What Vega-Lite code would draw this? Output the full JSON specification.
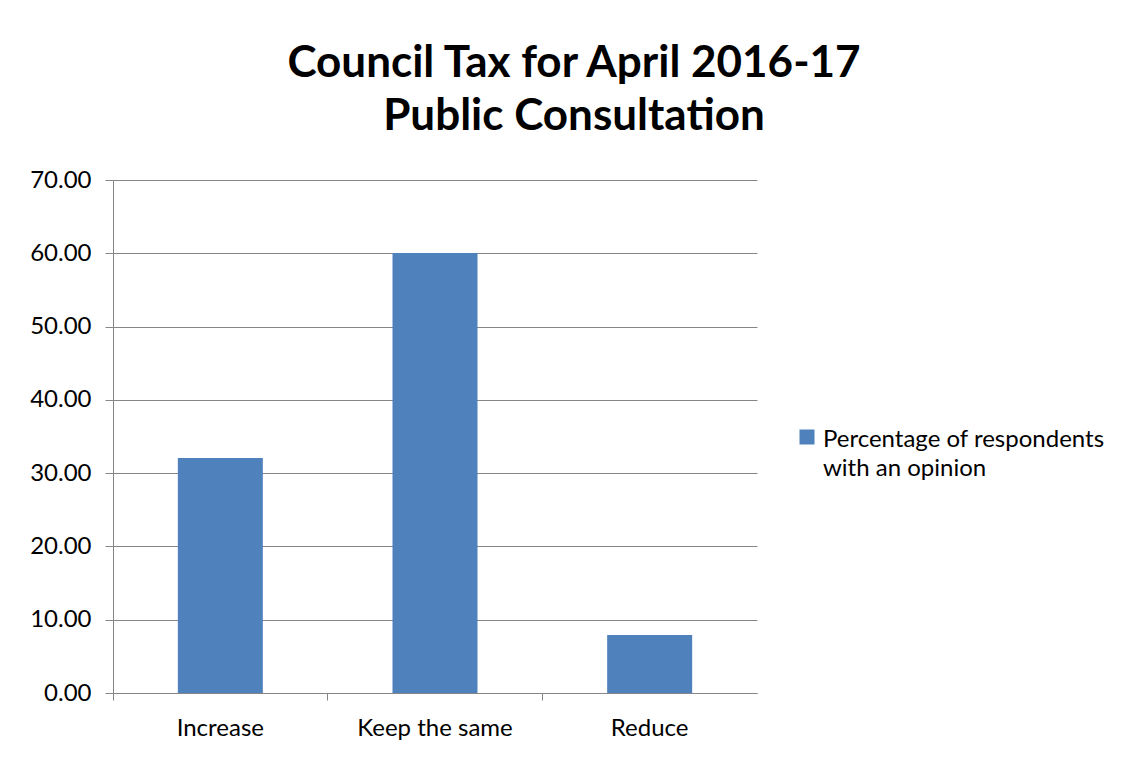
{
  "$schema": "https://vega.github.io/schema/vega-lite/v6.json",
  "autosize": "none",
  "width": 644,
  "height": 513,
  "padding": {"left": 113, "top": 180, "right": 366, "bottom": 65},
  "background": "white",
  "title": {
    "text": ["Council Tax for April 2016-17", "Public Consultation"],
    "font": "Lato",
    "fontSize": 44,
    "fontWeight": "bold",
    "color": "#000000",
    "anchor": "middle",
    "dx": 139,
    "offset": 29,
    "lineHeight": 53
  },
  "data": {
    "values": [
      {"category": "Increase", "value": 32.05, "series": "Percentage of respondents with an opinion"},
      {"category": "Keep the same", "value": 60.05, "series": "Percentage of respondents with an opinion"},
      {"category": "Reduce", "value": 7.9, "series": "Percentage of respondents with an opinion"}
    ]
  },
  "mark": {"type": "bar", "width": {"band": 0.396}},
  "encoding": {
    "x": {
      "field": "category",
      "type": "nominal",
      "sort": null,
      "scale": {"paddingInner": 0, "paddingOuter": 0},
      "axis": {
        "title": null,
        "labelAngle": 0,
        "labelFont": "Lato",
        "labelFontSize": 24,
        "labelColor": "#000000",
        "labelPadding": 16,
        "bandPosition": 0,
        "tickColor": "#868686",
        "tickSize": 7,
        "domainColor": "#868686",
        "labelBound": false,
        "labelFlush": false
      }
    },
    "y": {
      "field": "value",
      "type": "quantitative",
      "scale": {"domain": [0, 70]},
      "axis": {
        "title": null,
        "values": [0, 10, 20, 30, 40, 50, 60, 70],
        "format": ".2f",
        "labelFont": "Lato",
        "labelFontSize": 24,
        "labelColor": "#000000",
        "labelPadding": 14,
        "tickColor": "#868686",
        "tickSize": 8,
        "domainColor": "#868686",
        "gridColor": "#868686",
        "grid": true
      }
    },
    "color": {
      "field": "series",
      "type": "nominal",
      "scale": {"range": ["#4F81BD"]},
      "legend": {
        "title": null,
        "orient": "none",
        "legendX": 682,
        "legendY": 245,
        "symbolType": "square",
        "symbolSize": 225,
        "labelFont": "Lato",
        "labelFontSize": 24,
        "labelColor": "#000000",
        "labelExpr": "['Percentage of respondents', 'with an opinion']",
        "labelLimit": 400,
        "labelBaseline": "alphabetic",
        "labelOffset": 4,
        "encode": {"labels": {"update": {"dy": {"value": 10}}}}
      }
    }
  },
  "config": {
    "view": {"stroke": null},
    "style": {"guide-label": {"lineHeight": 29}}
  }
}
